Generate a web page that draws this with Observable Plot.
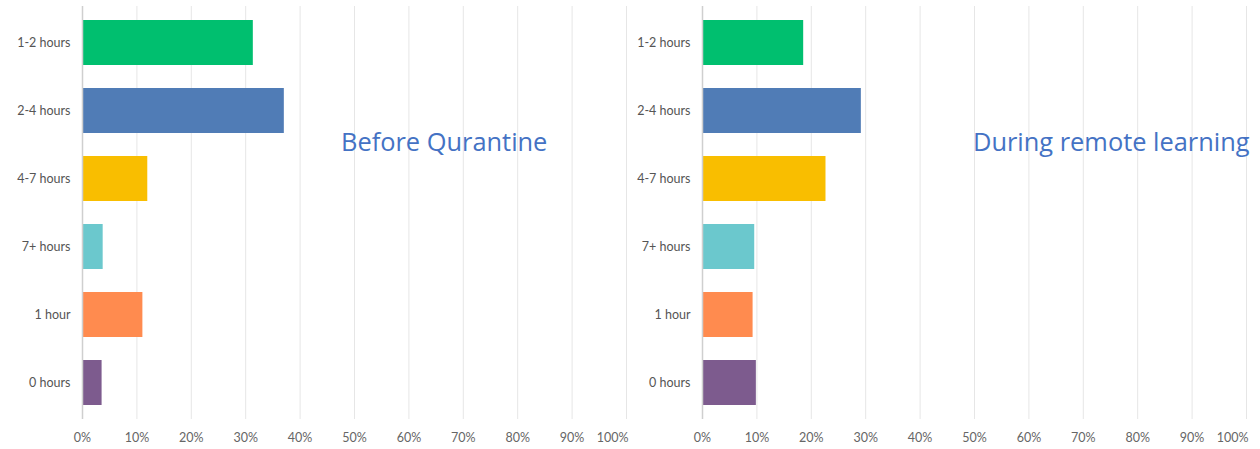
<!DOCTYPE html>
<html>
<head>
<meta charset="utf-8">
<script src="https://cdn.jsdelivr.net/npm/d3@7"></script>
<script src="https://cdn.jsdelivr.net/npm/@observablehq/plot@0.6"></script>
<style>
  html, body { margin: 0; padding: 0; background: #fff; }
  #wrap { position: relative; width: 1260px; height: 449px; display: flex; }
  .title { position: absolute; font-family: "Open Sans", sans-serif; font-size: 25.4px; color: #4472C4; white-space: nowrap; line-height: 1; }
</style>
</head>
<body>
<div id="wrap"></div>
<script>
const categories = ["1-2 hours", "2-4 hours", "4-7 hours", "7+ hours", "1 hour", "0 hours"];
const beforeValues = [31.4, 37.1, 12.0, 3.8, 11.1, 3.6];
const duringValues = [18.6, 29.2, 22.7, 9.6, 9.3, 9.9];
const xTicks = [0, 10, 20, 30, 40, 50, 60, 70, 80, 90, 100];
const titles = ["Before Qurantine", "During remote learning"];
const palette = ["#00BF6F", "#507CB6", "#F9BE00", "#6BC8CD", "#FF8B4F", "#7D5B8E"];

function panel(values, marginLeft, marginRight) {
  const data = categories.map((c, i) => ({category: c, value: values[i]}));
  return Plot.plot({
    width: 630,
    height: 449,
    marginTop: 6,
    marginBottom: 30,
    marginLeft,
    marginRight,
    style: {fontFamily: "Lato, 'Open Sans', sans-serif", fontSize: "12.5px", color: "#555", background: "white"},
    x: {domain: [0, 100]},
    y: {domain: categories, paddingInner: 0.344, paddingOuter: 0.19},
    color: {domain: categories, range: palette},
    marks: [
      Plot.gridX(xTicks.slice(1), {stroke: "#e6e6e6", strokeOpacity: 1}),
      Plot.barX(data, {x: "value", y: "category", fill: "category"}),
      Plot.ruleX([0], {stroke: "#cfcfcf", strokeWidth: 1.5}),
      Plot.ruleY([0], {frameAnchor: "bottom", stroke: "#cfcfcf", strokeWidth: 1.5}),
      Plot.axisY({tickSize: 0, tickPadding: 12, label: null, fill: "#555"}),
      Plot.axisX(xTicks.slice(0, -1), {tickSize: 0, tickPadding: 14, label: null, tickFormat: d => d + "%", fill: "#666"}),
      Plot.axisX(xTicks.slice(-1), {tickSize: 0, tickPadding: 14, label: null, tickFormat: d => d + "%", textAnchor: "end", dx: 2, fill: "#666"})
    ]
  });
}

const wrap = document.getElementById("wrap");
wrap.appendChild(panel(beforeValues, 82, 4));
wrap.appendChild(panel(duringValues, 72, 14));

const titlePos = [[341, 129], [973, 129]];
titles.forEach((t, i) => {
  const d = document.createElement("div");
  d.className = "title";
  d.textContent = t;
  d.style.left = titlePos[i][0] + "px";
  d.style.top = titlePos[i][1] + "px";
  wrap.appendChild(d);
});
</script>
</body>
</html>
